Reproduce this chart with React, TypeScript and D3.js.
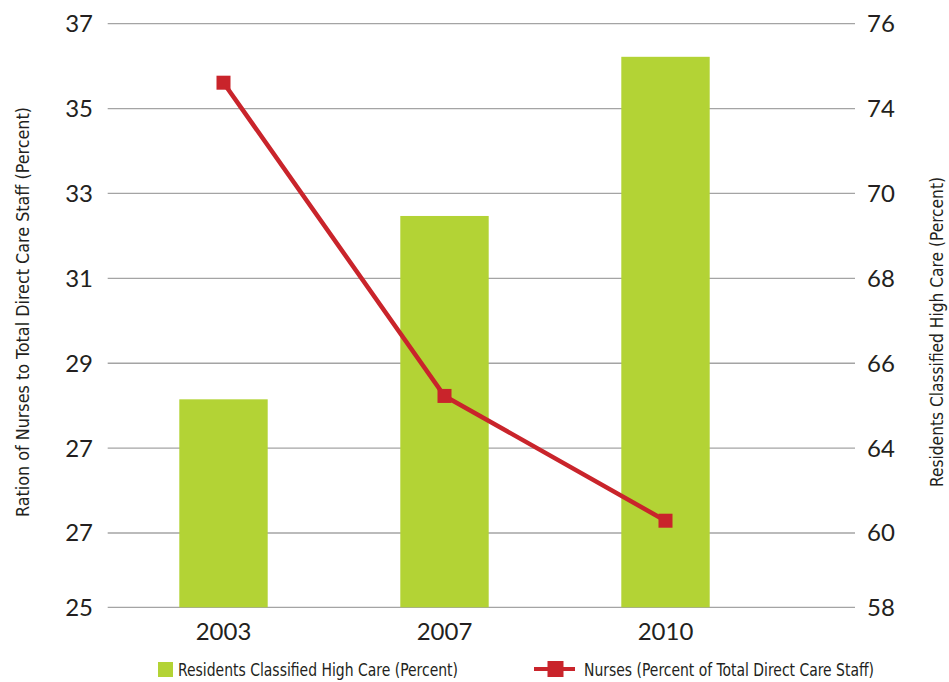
import * as React from 'react';
import * as d3 from 'd3';

// data
const YEARS = ['2003', '2007', '2010'];
const HIGH_CARE = [65.15, 69.47, 75.22]; // bars, right axis (percent)
const NURSES = [35.61, 28.23, 25.29]; // line, left axis

// gridline values (left axis) and the labels printed next to them
const LEFT_TICKS = [23.25, 25, 27, 29, 31, 33, 35, 37];
const LEFT_TICK_LABELS = ['25', '27', '27', '29', '31', '33', '35', '37'];
const RIGHT_TICKS = [58, 60, 64, 66, 68, 70, 74, 76];
const RIGHT_TICK_LABELS = ['58', '60', '64', '66', '68', '70', '74', '76'];

const LEGEND_BARS = 'Residents Classified High Care (Percent)';
const LEGEND_LINE = 'Nurses (Percent of Total Direct Care Staff)';
const LEFT_TITLE = 'Ration of Nurses to Total Direct Care Staff (Percent)';
const RIGHT_TITLE = 'Residents Classified High Care (Percent)';

const W = 949;
const H = 682;
const TOP = 23.7;
const BOTTOM = 607.3;
const GRID_X0 = 107.7;
const GRID_X1 = 855;

const GREEN = '#b3d335';
const RED = '#c9242b';
const GRID = '#a4a4a4';
const INK = '#231f20';
const NUM_FONT = 'Lato, "Open Sans", sans-serif';
const NARROW_FONT = '"Liberation Sans Narrow", "DejaVu Sans Condensed", Roboto, sans-serif';

export default function App() {
  const x = d3.scaleBand<string>()
    .domain(YEARS)
    .range([113, 776])
    .paddingInner(0.6)
    .paddingOuter(0.3);

  const yLeft = d3.scaleLinear()
    .domain([LEFT_TICKS[0], LEFT_TICKS[LEFT_TICKS.length - 1]])
    .range([BOTTOM, TOP]);

  // right axis shares the gridlines, so it is piecewise over them
  const yRight = d3.scaleLinear()
    .domain(RIGHT_TICKS)
    .range(LEFT_TICKS.map((t) => yLeft(t)));

  const cx = (yr: string) => (x(yr) as number) + x.bandwidth() / 2;

  const line = d3.line<number>()
    .x((_, i) => cx(YEARS[i]))
    .y((d) => yLeft(d));

  const marker = 14;

  return (
    <svg
      width={W}
      height={H}
      style={{ position: 'absolute', left: 0, top: 0, background: '#fff' }}
    >
      {/* gridlines */}
      {LEFT_TICKS.map((t, i) => (
        <line
          key={'g' + i}
          x1={GRID_X0}
          x2={GRID_X1}
          y1={yLeft(t)}
          y2={yLeft(t)}
          stroke={GRID}
          strokeWidth={1.3}
        />
      ))}

      {/* left tick labels */}
      {LEFT_TICKS.map((t, i) => (
        <text
          key={'l' + i}
          x={93}
          y={yLeft(t)}
          dy="0.35em"
          textAnchor="end"
          fontFamily={NUM_FONT}
          fontSize={24}
          fill={INK}
        >
          {LEFT_TICK_LABELS[i]}
        </text>
      ))}

      {/* right tick labels */}
      {RIGHT_TICKS.map((t, i) => (
        <text
          key={'r' + i}
          x={867}
          y={yRight(t)}
          dy="0.35em"
          textAnchor="start"
          fontFamily={NUM_FONT}
          fontSize={24}
          fill={INK}
        >
          {RIGHT_TICK_LABELS[i]}
        </text>
      ))}

      {/* bars */}
      {YEARS.map((yr, i) => (
        <rect
          key={'b' + yr}
          x={x(yr)}
          y={yRight(HIGH_CARE[i])}
          width={x.bandwidth()}
          height={yRight(RIGHT_TICKS[0]) - yRight(HIGH_CARE[i])}
          fill={GREEN}
        />
      ))}

      {/* line */}
      <path d={line(NURSES) || ''} fill="none" stroke={RED} strokeWidth={4.5} />
      {NURSES.map((v, i) => (
        <rect
          key={'m' + i}
          x={cx(YEARS[i]) - marker / 2}
          y={yLeft(v) - marker / 2}
          width={marker}
          height={marker}
          fill={RED}
        />
      ))}

      {/* x labels */}
      {YEARS.map((yr) => (
        <text
          key={'x' + yr}
          x={cx(yr)}
          y={640}
          textAnchor="middle"
          fontFamily={NUM_FONT}
          fontSize={24}
          fill={INK}
        >
          {yr}
        </text>
      ))}

      {/* axis titles */}
      <text
        transform="translate(29,312) rotate(-90)"
        textAnchor="middle"
        fontFamily={NARROW_FONT}
        fontSize={18}
        fill={INK}
        textLength={410}
        lengthAdjust="spacingAndGlyphs"
      >
        {LEFT_TITLE}
      </text>
      <text
        transform="translate(943,332) rotate(-90)"
        textAnchor="middle"
        fontFamily={NARROW_FONT}
        fontSize={18}
        fill={INK}
        textLength={310}
        lengthAdjust="spacingAndGlyphs"
      >
        {RIGHT_TITLE}
      </text>

      {/* legend */}
      <rect x={158} y={662} width={15} height={15} fill={GREEN} />
      <text
        x={178}
        y={675.5}
        fontFamily={NARROW_FONT}
        fontSize={17}
        fill={INK}
        textLength={280}
        lengthAdjust="spacingAndGlyphs"
      >
        {LEGEND_BARS}
      </text>
      <line x1={534} x2={575} y1={669} y2={669} stroke={RED} strokeWidth={4} />
      <rect x={547.5} y={661} width={16} height={16} fill={RED} />
      <text
        x={584}
        y={675.5}
        fontFamily={NARROW_FONT}
        fontSize={17}
        fill={INK}
        textLength={290}
        lengthAdjust="spacingAndGlyphs"
      >
        {LEGEND_LINE}
      </text>
    </svg>
  );
}
